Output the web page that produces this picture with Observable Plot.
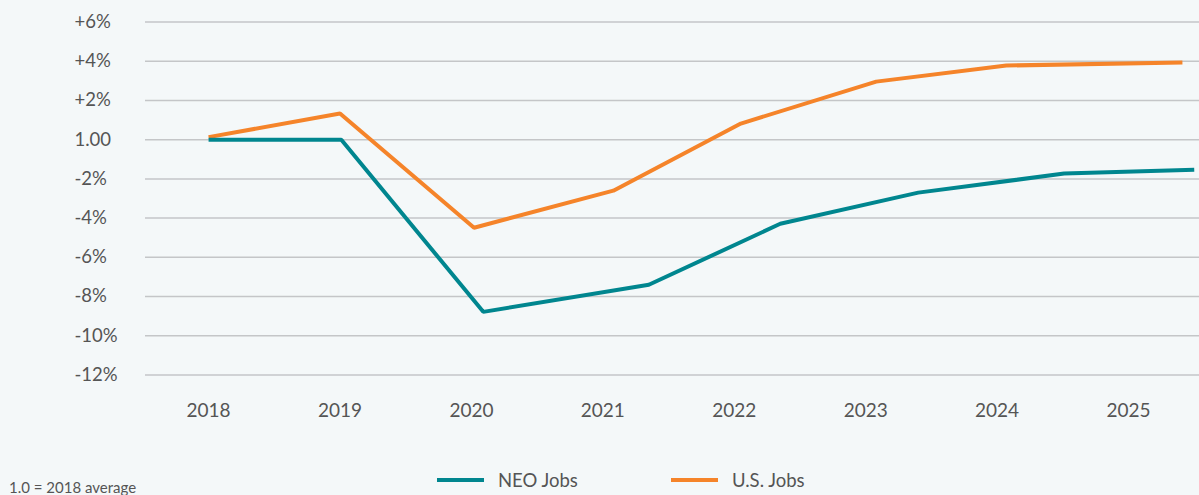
<!DOCTYPE html>
<html>
<head>
<meta charset="utf-8">
<script src="https://cdn.jsdelivr.net/npm/d3@7"></script>
<script src="https://cdn.jsdelivr.net/npm/@observablehq/plot@0.6"></script>
<style>
  html, body { margin: 0; padding: 0; background: #f4f8f9; }
  body { width: 1199px; height: 495px; overflow: hidden; font-family: Lato, "Open Sans", sans-serif; color: #555; }
  #chart svg { display: block; }
  #below { position: relative; height: 40px; }
  .leg { position: absolute; top: 14px; display: flex; align-items: center; font-size: 18.5px; color: #555; }
  .sw { width: 47px; height: 4px; margin-right: 14px; }
  #note { position: absolute; left: 9px; top: 24px; font-size: 15px; line-height: 16px; color: #555; }
</style>
</head>
<body>
<div id="chart"></div>
<div id="below">
  <div class="leg" style="left:437px"><span class="sw" style="background:#00868f"></span><span id="l1"></span></div>
  <div class="leg" style="left:671px"><span class="sw" style="background:#f5842a"></span><span id="l2"></span></div>
  <div id="note"></div>
</div>
<script>
const seriesNames = ["NEO Jobs", "U.S. Jobs"];
const neoX = [2018.0, 2019.01, 2020.09, 2021.35, 2022.35, 2023.40, 2024.51, 2025.50];
const neoY = [0, 0, -8.78, -7.40, -4.29, -2.70, -1.73, -1.53];
const usX = [2018.0, 2019.0, 2020.02, 2021.08, 2022.05, 2023.08, 2024.07, 2025.41];
const usY = [0.13, 1.33, -4.49, -2.60, 0.82, 2.96, 3.78, 3.93];
const xTicks = [2018, 2019, 2020, 2021, 2022, 2023, 2024, 2025];
const yTicks = [6, 4, 2, 0, -2, -4, -6, -8, -10, -12];
const yTickLabels = ["+6%", "+4%", "+2%", "1.00", "-2%", "-4%", "-6%", "-8%", "-10%", "-12%"];
const note = "1.0 = 2018 average";

const neo = neoX.map((x, i) => ({x, y: neoY[i]}));
const us = usX.map((x, i) => ({x, y: usY[i]}));

const plot = Plot.plot({
  width: 1199,
  height: 455,
  marginLeft: 145,
  marginRight: 0,
  marginTop: 21.5,
  marginBottom: 80.5,
  style: {background: "transparent", fontFamily: "Lato, 'Open Sans', sans-serif"},
  x: {domain: [2017.52, 2025.54], axis: null},
  y: {domain: [-12, 6], axis: null},
  marks: [
    Plot.ruleY(yTicks, {stroke: "#c4c6c8", strokeWidth: 1.5}),
    Plot.text(yTicks, {y: d => d, frameAnchor: "left", text: (d, i) => yTickLabels[i], textAnchor: "start", dx: -71, fontSize: 18.5, fill: "#555"}),
    Plot.text(xTicks, {x: d => d, frameAnchor: "bottom", text: d => String(d), dy: 42, fontSize: 19, fill: "#555"}),
    Plot.line(us, {x: "x", y: "y", stroke: "#f5842a", strokeWidth: 4, strokeLinecap: "butt", strokeLinejoin: "miter"}),
    Plot.line(neo, {x: "x", y: "y", stroke: "#00868f", strokeWidth: 4, strokeLinecap: "butt", strokeLinejoin: "miter"})
  ]
});
document.getElementById("chart").appendChild(plot);
document.getElementById("l1").textContent = seriesNames[0];
document.getElementById("l2").textContent = seriesNames[1];
document.getElementById("note").textContent = note;
</script>
</body>
</html>
